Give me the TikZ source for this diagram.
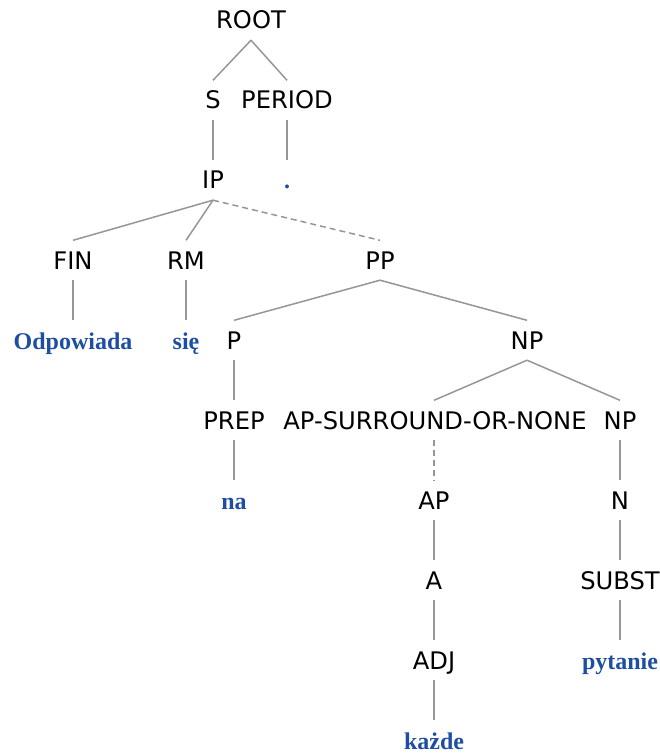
\documentclass[tikz,border=0pt]{standalone}
\usepackage{fontspec}
\setmainfont{DejaVu Sans}
\newfontfamily\wordfont{Liberation Serif}
\definecolor{edgegray}{RGB}{150,150,150}
\definecolor{wordblue}{RGB}{30,78,162}
\begin{document}
\begin{tikzpicture}[x=1pt,y=-1pt,
  cat/.style={anchor=base,inner xsep=0pt,inner ysep=11pt,text height=17.5pt,text depth=0pt,font=\fontsize{24.2}{28}\selectfont},
  word/.style={cat,font=\fontsize{24}{28}\wordfont\bfseries,text=wordblue},
  edge/.style={draw=edgegray,line width=1.5pt},
  dashedge/.style={edge,dash pattern=on 6pt off 4pt}]
\useasboundingbox (0,0) rectangle (659,754);
\node[cat] (root) at (251,29) {ROOT};
\node[cat] (s) at (213,109) {S};
\node[cat] (period) at (287,109) {PERIOD};
\node[cat] (ip) at (213,189) {IP};
\node[word] (dot) at (287,189) {.};
\node[cat] (fin) at (73,269) {FIN};
\node[cat] (rm) at (186,269) {RM};
\node[cat] (pp) at (380,269) {PP};
\node[word] (odp) at (73,349) {Odpowiada};
\node[word] (sie) at (186,349) {się};
\node[cat] (p) at (234,349) {P};
\node[cat] (np) at (527,349) {NP};
\node[cat] (prep) at (234,429) {PREP};
\node[cat] (aps) at (435,429) {AP-SURROUND-OR-NONE};
\node[cat] (np2) at (620,429) {NP};
\node[word] (na) at (234,509) {na};
\node[cat] (ap) at (434,509) {AP};
\node[cat] (n) at (620,509) {N};
\node[cat] (a) at (434,589) {A};
\node[cat] (subst) at (620,589) {SUBST};
\node[cat] (adj) at (434,669) {ADJ};
\node[word] (pyt) at (620,669) {pytanie};
\node[word] (kazde) at (434,749) {każde};
\draw[edge] (root.south) -- (s.north);
\draw[edge] (root.south) -- (period.north);
\draw[edge] (s.south) -- (ip.north);
\draw[edge] (period.south) -- (dot.north);
\draw[edge] (ip.south) -- (fin.north);
\draw[edge] (ip.south) -- (rm.north);
\draw[dashedge] (ip.south) -- (pp.north);
\draw[edge] (fin.south) -- (odp.north);
\draw[edge] (rm.south) -- (sie.north);
\draw[edge] (pp.south) -- (p.north);
\draw[edge] (pp.south) -- (np.north);
\draw[edge] (p.south) -- (prep.north);
\draw[edge] (np.south) -- ([xshift=-1pt]aps.north);
\draw[edge] (np.south) -- (np2.north);
\draw[edge] (prep.south) -- (na.north);
\draw[dashedge] ([xshift=-1pt]aps.south) -- (ap.north);
\draw[edge] (np2.south) -- (n.north);
\draw[edge] (ap.south) -- (a.north);
\draw[edge] (n.south) -- (subst.north);
\draw[edge] (a.south) -- (adj.north);
\draw[edge] (subst.south) -- (pyt.north);
\draw[edge] (adj.south) -- (kazde.north);
\end{tikzpicture}
\end{document}
